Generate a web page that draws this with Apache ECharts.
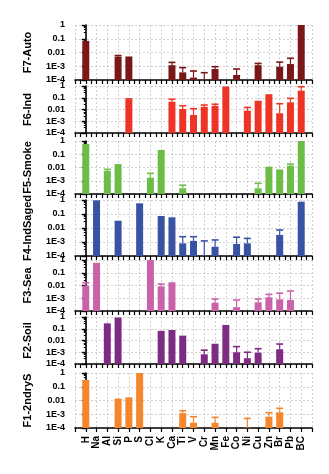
<!DOCTYPE html>
<html><head><meta charset="utf-8">
<script src="https://cdn.jsdelivr.net/npm/echarts@6/dist/echarts.min.js"></script>
<style>html,body{margin:0;padding:0;background:#fff}#c{width:329px;height:474px}</style>
</head><body><div id="c"></div>
<script>
const categories = ['H','Na','Al','Si','P','S','Cl','K','Ca','Ti','V','Cr','Mn','Fe','Co','Ni','Cu','Zn','Br','Pb','BC'];
const yTickLabels = {'0':'1','-1':'0.1','-2':'0.01','-3':'1E-3','-4':'1E-4'};

// values per factor (null = no bar); *Err = top of error bar (null = none)
const f7Auto    = [0.07,null,null,0.005,0.004,null,null,null,0.0012,3.6e-4,1.5e-4,1.05e-4,6.3e-4,null,2.3e-4,null,1.2e-3,null,9.3e-4,1.45e-3,1.0];
const f7AutoErr = [null,null,null,0.006,0.0045,null,null,null,0.0019,7.9e-4,4.5e-4,3.4e-4,9.3e-4,null,6.3e-4,null,1.6e-3,null,2.0e-3,3.8e-3,null];

const f6Ind     = [null,null,null,null,0.074,null,null,null,0.046,0.011,3.4e-3,0.017,0.02,0.9,null,0.008,0.056,0.2,4.8e-3,0.041,0.4];
const f6IndErr  = [null,null,null,null,0.08,null,null,null,0.074,0.021,0.0117,0.024,0.028,null,null,0.015,null,null,0.031,0.089,0.87];

const f5Smoke    = [0.6,null,5.5e-3,0.018,null,null,1.7e-3,0.21,null,2.7e-4,null,null,null,null,null,null,2.7e-4,0.0115,5.5e-3,0.0137,1.0];
const f5SmokeErr = [null,null,7.3e-3,null,null,null,3.6e-3,null,null,4.6e-4,null,null,null,null,null,null,6.4e-4,null,6.2e-3,0.018,null];

const f4IndSaged    = [null,0.95,null,0.033,null,0.58,null,0.072,0.058,8e-4,1.2e-3,1.05e-4,4.6e-4,null,7.2e-4,8e-4,null,null,3.2e-3,null,0.75];
const f4IndSagedErr = [null,null,null,null,null,null,null,null,null,2.4e-3,2.4e-3,1.2e-3,1.4e-3,null,2.2e-3,1.8e-3,null,null,7.2e-3,null,null];

const f3Sea    = [9.6e-3,0.49,null,null,null,null,1.0,8.5e-3,0.018,null,null,null,4.5e-4,null,2e-4,null,4.8e-4,1.2e-3,8.3e-4,7.3e-4,null];
const f3SeaErr = [0.0166,0.52,null,null,null,null,null,0.013,null,null,null,null,8.7e-4,null,7.3e-4,null,8.7e-4,2e-3,2.5e-3,3.7e-3,null];

const f2Soil    = [null,null,0.29,0.9,null,null,null,0.066,0.078,0.026,null,6.7e-4,5.3e-3,0.21,1e-3,3.1e-4,9.2e-4,null,1.8e-3,null,null];
const f2SoilErr = [null,null,null,null,null,null,null,null,null,null,null,1.5e-3,null,null,3e-3,1e-3,2e-3,null,5e-3,null,null];

const f1Secondary    = [0.31,null,null,0.011,0.017,1.0,null,null,null,1.2e-3,2.4e-4,null,2.4e-4,null,null,1.05e-4,null,6.6e-4,1.4e-3,null,null];
const f1SecondaryErr = [null,null,null,0.012,null,null,null,null,null,1.8e-3,6.6e-4,null,6e-4,null,null,5e-4,null,1.3e-3,2.7e-3,null,null];

const panelNames  = ['F7-Auto','F6-Ind','F5-Smoke','F4-IndSaged','F3-Sea','F2-Soil','F1-2ndryS'];
const panelValues = [f7Auto,f6Ind,f5Smoke,f4IndSaged,f3Sea,f2Soil,f1Secondary];
const panelErrs   = [f7AutoErr,f6IndErr,f5SmokeErr,f4IndSagedErr,f3SeaErr,f2SoilErr,f1SecondaryErr];
const panelColors = ['#7A1719','#EE3427','#6BBD47','#3953A3','#CA62A9','#7E2B83','#F6862B'];
const panelTops    = [25,86,141,200,260,317,373];
const panelHeights = [55,47,53,56,51,47,55];

const FONT = '"Liberation Sans", Arial, sans-serif';
const LOGMIN = 1e-4, LOGMAX = 1;

function makeRender(color){
  return function(params, api){
    const x = api.value(0), v = api.value(1), e = api.value(2);
    const base = api.coord([x, LOGMIN]);
    const top = api.coord([x, v]);
    const w = 7;
    const children = [{type:'rect', shape:{x: base[0]-w/2, y: top[1], width: w, height: base[1]-top[1]}, style:{fill: color}}];
    if (e > 0) {
      const ep = api.coord([x, e]);
      children.push({type:'line', shape:{x1: top[0], y1: top[1], x2: top[0], y2: ep[1]}, style:{stroke: color, lineWidth: 1.2}});
      children.push({type:'line', shape:{x1: top[0]-3.5, y1: ep[1], x2: top[0]+3.5, y2: ep[1]}, style:{stroke: color, lineWidth: 1.6}});
    }
    return {type:'group', children};
  };
}

const grid = [], xAxis = [], yAxis = [], series = [];
for (let k = 0; k < 7; k++) {
  grid.push({left: 75, width: 237, top: panelTops[k], height: panelHeights[k], containLabel: false});
  xAxis.push({
    gridIndex: k, type: 'value', min: -1, max: 21, interval: 1, position: 'bottom',
    axisLine: {show: true, onZero: false, lineStyle: {color: '#000', width: 1.6}},
    axisTick: {show: true, length: 4, lineStyle: {color: '#000', width: 1.2}},
    minorTick: {show: k < 6, splitNumber: 2, length: 4, lineStyle: {color: '#000', width: 1.2}},
    splitLine: {show: true, lineStyle: {color: '#c4c4c4', type: [2,2], width: 0.8}},
    axisLabel: {show: k === 6, rotate: 90, fontSize: 10, fontWeight: 'bold', color: '#000', fontFamily: FONT, margin: 8,
      formatter: v => (Number.isInteger(v) && v >= 0 && v < categories.length) ? categories[v] : ''}
  });
  yAxis.push({
    gridIndex: k, type: 'log', logBase: 10, min: LOGMIN, max: LOGMAX,
    name: panelNames[k], nameLocation: 'middle', nameGap: 42, nameRotate: 90,
    nameTextStyle: {fontSize: 11, fontWeight: 'bold', color: '#000', fontFamily: FONT},
    axisLine: {show: true, lineStyle: {color: '#000', width: 1.6}},
    axisTick: {show: true, length: 4, lineStyle: {color: '#000', width: 1.4}},
    minorTick: {show: true, splitNumber: 5, length: 2, lineStyle: {color: '#000', width: 1}},
    splitLine: {show: true, lineStyle: {color: '#c4c4c4', type: [2,2], width: 0.8}},
    axisLabel: {fontSize: 9, fontWeight: 'bold', color: '#000', fontFamily: FONT, margin: 10,
      formatter: v => yTickLabels[String(Math.round(Math.log10(v)))] || ''}
  });
  const data = [];
  panelValues[k].forEach((v, i) => { if (v != null) data.push([i, v, panelErrs[k][i] || 0]); });
  series.push({
    type: 'custom', xAxisIndex: k, yAxisIndex: k, clip: false,
    encode: {x: 0, y: 1}, data: data, renderItem: makeRender(panelColors[k]), silent: true
  });
}

const chart = echarts.init(document.getElementById('c'), null, {renderer: 'canvas'});
chart.setOption({animation: false, backgroundColor: '#fff', grid, xAxis, yAxis, series});
</script>
</body></html>
